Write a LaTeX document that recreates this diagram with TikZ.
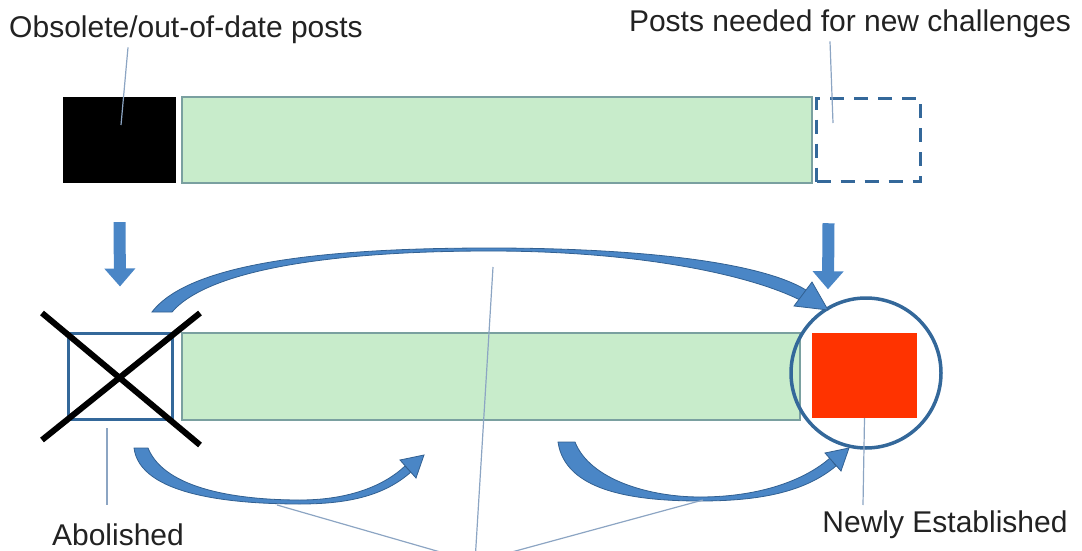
\documentclass[tikz,border=0pt]{standalone}
\usepackage{fontspec}
\setmainfont{Liberation Sans}
\usepackage{tikz}
\usepackage{xcolor}
\usetikzlibrary{arrows.meta, positioning, calc}
\definecolor{post-green}{RGB}{200,236,203}
\definecolor{post-edge}{RGB}{122,160,160}
\definecolor{post-blue}{RGB}{52,104,154}
\definecolor{flow-blue}{RGB}{74,134,198}
\definecolor{flow-dark}{RGB}{50,96,145}
\definecolor{new-red}{RGB}{255,51,0}
\definecolor{leader-gray}{RGB}{140,165,195}
\definecolor{label-gray}{RGB}{34,34,34}

\begin{document}
\begin{tikzpicture}[x=1pt, y=-1pt,
  label/.style={font=\fontsize{30}{33}\selectfont, text=label-gray, inner sep=0pt},
  leader/.style={draw=leader-gray, line width=1.2pt},
  greenbar/.style={draw=post-edge, line width=1.3pt, fill=post-green, inner sep=0pt},
  postbox/.style={inner sep=0pt, minimum height=86pt},
  blockarrow/.style={draw=flow-blue, line width=12pt, -{Triangle[width=30pt,length=18pt]}},
  arcarrow/.style={fill=flow-blue, draw=flow-dark, line width=0.8pt}]
  \useasboundingbox (0,0) rectangle (1082,551);
  \clip (0,0) rectangle (1082,551);

  % upper row: current posts
  \node[postbox, fill=black, minimum width=113pt] (oldpost) at (119.5,140) {};
  \node[greenbar, minimum width=630pt, minimum height=86pt] (toppost) at (497,140) {};
  \node[postbox, draw=post-blue, line width=3.5pt, dash pattern=on 14pt off 10pt, minimum width=104pt, minimum height=83pt] (needpost) at (868.5,140) {};

  % labels of the upper row
  \node[label, anchor=base] (oldlbl) at (186,38) {Obsolete/out-of-date posts};
  \node[label, anchor=base] (needlbl) at (850,32) {Posts needed for new challenges};
  \coordinate (oldpt) at (121,125);
  \coordinate (needpt) at (833,123);
  \draw[leader] ([xshift=-58pt,yshift=-3pt]oldlbl.south) -- (oldpt);
  \draw[leader] ([xshift=-20pt,yshift=-3pt]needlbl.south) -- (needpt);

  % lower row: reorganised posts
  \node[postbox, draw=post-blue, line width=3pt, minimum width=104pt] (gonepost) at (120,376) {};
  \draw[black, line width=6pt] (42,313) -- (200,445);
  \draw[black, line width=6pt] (42,440) -- (200,313);
  \node[greenbar, minimum width=618pt, minimum height=87pt] (botpost) at (491,376.5) {};
  \node[circle, draw=post-blue, line width=3.5pt, minimum size=150pt, inner sep=0pt] (ring) at (866,373) {};
  \node[postbox, fill=new-red, minimum width=105pt, minimum height=85pt] (newpost) at (864.5,375.5) {};

  % down arrows
  \draw[blockarrow] ([yshift=-39pt]oldpost.south) -- ([yshift=45pt]gonepost.north);
  \draw[blockarrow] ([xshift=-40pt,yshift=-40pt]needpost.south) -- ([xshift=-38pt,yshift=7pt]ring.north);

  % curved arrow over the top
  \path[arcarrow] (152,312) .. controls (190,262) and (330,248) .. (490,248)
    .. controls (640,248) and (760,262) .. (806,290)
    -- (800,300) .. controls (750,275) and (640,251) .. (490,251)
    .. controls (340,251) and (210,268) .. (172,312) -- cycle;
  \path[arcarrow] (812,282) -- (828,310) -- (794,306) -- cycle;

  % curved arrows underneath
  \path[arcarrow] (148,448) .. controls (165,490) and (240,500) .. (300,500)
    .. controls (350,500) and (385,485) .. (405,466)
    -- (411,472) .. controls (385,495) and (350,504) .. (300,504)
    .. controls (230,504) and (140,495) .. (134,448) -- cycle;
  \path[arcarrow] (416,478) -- (424,455) -- (400,460) -- cycle;
  \path[arcarrow] (575,442) .. controls (590,480) and (650,497) .. (700,497)
    .. controls (760,497) and (805,480) .. (830,458)
    -- (836,466) .. controls (805,492) and (760,501) .. (700,501)
    .. controls (630,501) and (565,490) .. (558,442) -- cycle;
  \path[arcarrow] (841,471) -- (849,448) -- (825,453) -- cycle;

  % labels of the lower row
  \node[label, anchor=base] (gonelbl) at (118,545) {Abolished};
  \node[label, anchor=base] (newlbl) at (945,532) {Newly Established};
  \draw[leader] (107,428) -- (107,505);
  \draw[leader] (newpost.south) -- (863,505);

  % leaders to the moves
  \coordinate (moves) at (475,562);
  \draw[leader] (493,267) -- (moves);
  \draw[leader] (277,505) -- (moves);
  \draw[leader] (703,500) -- (moves);
\end{tikzpicture}
\end{document}
